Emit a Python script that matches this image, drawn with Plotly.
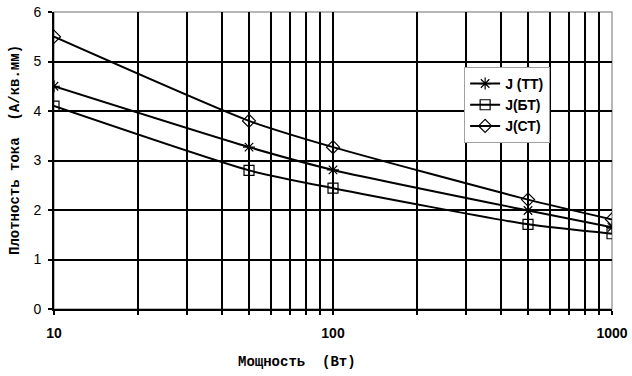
import plotly.graph_objects as go

power = [10, 50, 100, 500, 1000]
j_tt = [4.5, 3.27, 2.81, 1.99, 1.65]
j_bt = [4.1, 2.8, 2.44, 1.71, 1.52]
j_st = [5.5, 3.8, 3.27, 2.21, 1.81]

series = [
    ("J (TT)", j_tt, "asterisk-open"),
    ("J(БТ)", j_bt, "square-open"),
    ("J(СТ)", j_st, "diamond-open"),
]

x_ticks = [10, 20, 30, 40, 50, 60, 70, 80, 90,
           100, 200, 300, 400, 500, 600, 700, 800, 900, 1000]
x_labels = ["<b>%d</b>" % v if v in (10, 100, 1000) else "" for v in x_ticks]
y_ticks = [0, 1, 2, 3, 4, 5, 6]

x_title = "Мощность\u00a0\u00a0(Вт)"
y_title = "Плотность\u00a0тока\u00a0\u00a0(А/кв.мм)"

fig = go.Figure()
for name, vals, sym in series:
    fig.add_trace(go.Scatter(
        x=power, y=vals, name="<b>%s</b>" % name, mode="lines+markers",
        line=dict(color="black", width=2, shape="spline", smoothing=0.6),
        marker=dict(symbol=sym, size=10, color="black",
                    line=dict(color="black", width=1.2)),
    ))

fig.update_layout(
    width=632, height=376,
    margin=dict(l=54, r=20, t=12, b=67),
    paper_bgcolor="white", plot_bgcolor="white",
    font=dict(family="Liberation Sans, Arial", size=14, color="black"),
    showlegend=True,
    legend=dict(
        x=0.735, y=0.815, xanchor="left", yanchor="top",
        bgcolor="white", bordercolor="#a0a0a0", borderwidth=1,
        font=dict(family="Liberation Sans, Arial", size=14, color="black"),
        tracegroupgap=0, itemwidth=30,
    ),
    xaxis=dict(
        type="log", range=[1, 3], automargin=False,
        tickvals=x_ticks, ticktext=x_labels,
        showgrid=True, gridcolor="black", gridwidth=2,
        ticks="outside", ticklen=4, tickcolor="black", tickwidth=1.5,
        ticklabelstandoff=6,
        showline=True, linecolor="black", linewidth=2, mirror=False,
        zeroline=False,
        tickfont=dict(family="Liberation Sans, Arial", size=14),
    ),
    yaxis=dict(
        range=[0, 6], tickvals=y_ticks, automargin=False,
        showgrid=True, gridcolor="black", gridwidth=2,
        ticks="outside", ticklen=4, tickcolor="black", tickwidth=1.5,
        ticklabelstandoff=4,
        showline=True, linecolor="black", linewidth=2,
        zeroline=False,
        tickfont=dict(family="Liberation Sans, Arial", size=14),
    ),
    shapes=[
        dict(type="rect", xref="paper", yref="paper", x0=0, x1=1, y0=0, y1=1,
             line=dict(color="#a0a0a0", width=1.5), layer="below"),
    ],
    annotations=[
        dict(text="<b>%s</b>" % x_title, xref="paper", yref="paper",
             x=(297 - 54) / 558, y=(309 - 362) / 297,
             xanchor="center", yanchor="middle", showarrow=False,
             font=dict(family="Liberation Mono, Courier New", size=14)),
        dict(text="<b>%s</b>" % y_title, xref="paper", yref="paper",
             x=(15 - 54) / 558, y=(309 - 150) / 297, textangle=-90,
             xanchor="center", yanchor="middle", showarrow=False,
             font=dict(family="Liberation Mono, Courier New", size=14)),
    ],
)

fig.write_html("out.html",
               config={"displayModeBar": False},
               post_script="document.body.style.margin='0';document.body.style.overflow='hidden';")
